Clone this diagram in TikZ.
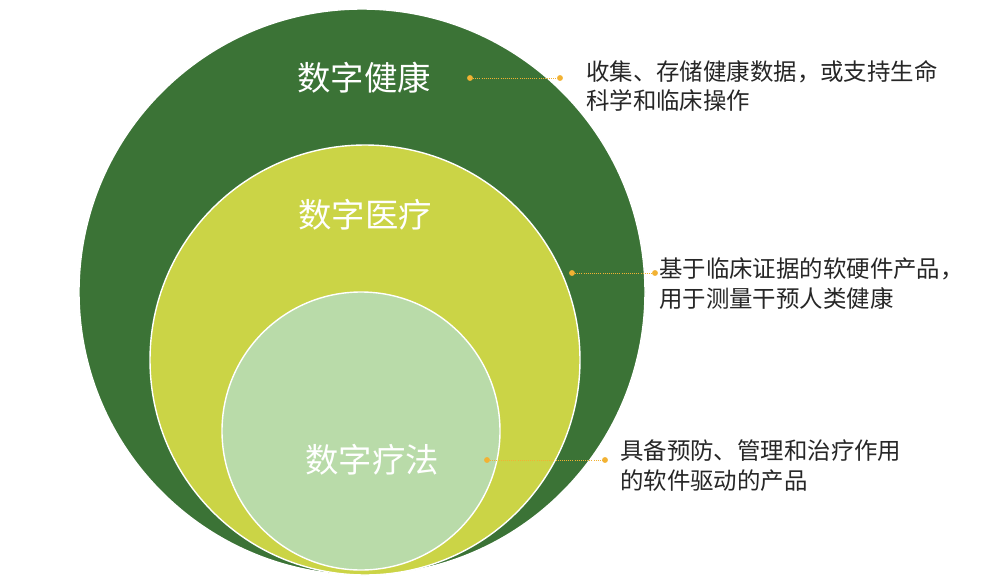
\documentclass[tikz,border=0pt]{standalone}
\usepackage{fontspec}
\newfontfamily\cjk{Noto Sans CJK SC}
\definecolor{darkgreen}{HTML}{3B7336}
\definecolor{limegreen}{HTML}{CBD446}
\definecolor{palegreen}{HTML}{B9DBA9}
\definecolor{dotorange}{HTML}{F2B233}
\begin{document}
\begin{tikzpicture}[x=0.03cm,y=-0.03cm]
        \tikzstyle{ring}=[circle,draw=white,line width=1.2pt,inner sep=0pt]
        \tikzstyle{title}=[text=white,font=\cjk\fontsize{28.5}{32}\selectfont]
        \tikzstyle{note}=[anchor=west,align=left,font=\cjk\fontsize{20}{25.5}\selectfont,text=black!85]
        \tikzstyle{dot}=[circle,fill=dotorange,inner sep=0pt,minimum size=5pt]
        \tikzstyle{lead}=[draw=dotorange,densely dotted,line width=0.8pt]
        \useasboundingbox (0,0) rectangle (1000,581);
        % circles
        \node [ring,fill=darkgreen,minimum size=566*0.03cm] (health) at (362,292) {};
        \node [ring,fill=limegreen,minimum size=430*0.03cm] (medic) at (365,360) {};
        \node [ring,fill=palegreen,minimum size=278*0.03cm] (thera) at (361,431) {};
        % titles
        \node [title] (t1) at (364,78) {数字健康};
        \node [title] (t2) at (365,215) {数字医疗};
        \node [title] (t3) at (372,460) {数字疗法};
        % notes
        \node [dot] (d1) at (470,78) {};
        \node [dot] (d2) at (572,273) {};
        \node [dot] (d3) at (487,460) {};
        \node [note] (n1) at (582,86) {收集、存储健康数据，或支持生命\\科学和临床操作};
        \node [note] (n2) at (655,284) {基于临床证据的软硬件产品，\\用于测量干预人类健康};
        \node [note] (n3) at (616,466) {具备预防、管理和治疗作用\\的软件驱动的产品};
        \coordinate (e1) at (560,78);
        \coordinate (e2) at (655,273);
        \coordinate (e3) at (605,460);
        \path[lead] (d1) -- (e1);
        \path[lead] (d2) -- (e2);
        \path[lead] (d3) -- (e3);
        \node [dot] at (e1) {};
        \node [dot] at (e2) {};
        \node [dot] at (e3) {};
\end{tikzpicture}
\end{document}
